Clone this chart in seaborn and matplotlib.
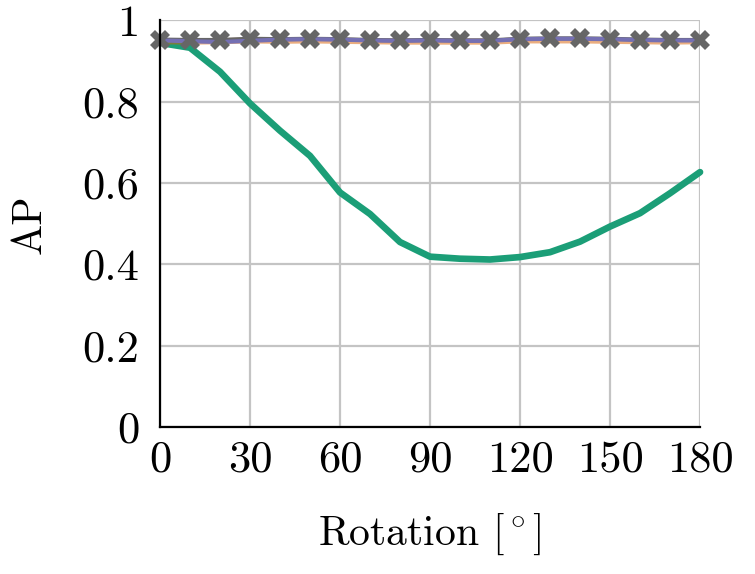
import numpy as np
import pandas as pd
import seaborn as sns
import matplotlib.pyplot as plt

# Angulos de rotacao e AP de cada metodo
rotation = [0, 10, 20, 30, 40, 50, 60, 70, 80, 90, 100, 110, 120, 130, 140, 150, 160, 170, 180]
ap_green = [0.945, 0.933, 0.874, 0.796, 0.729, 0.667, 0.577, 0.524, 0.455, 0.419,
            0.414, 0.412, 0.418, 0.430, 0.456, 0.493, 0.526, 0.575, 0.627]
ap_orange = [0.949, 0.948, 0.949, 0.951, 0.950, 0.951, 0.950, 0.949, 0.948, 0.948,
             0.948, 0.948, 0.951, 0.951, 0.951, 0.950, 0.949, 0.948, 0.949]
ap_purple = [0.951, 0.949, 0.947, 0.950, 0.953, 0.954, 0.953, 0.951, 0.950, 0.951,
             0.950, 0.950, 0.954, 0.955, 0.955, 0.954, 0.952, 0.951, 0.951]
ap_gray = [0.953, 0.952, 0.952, 0.955, 0.954, 0.955, 0.954, 0.952, 0.951, 0.952,
           0.951, 0.951, 0.955, 0.956, 0.956, 0.955, 0.953, 0.952, 0.952]
xticks = [0, 30, 60, 90, 120, 150, 180]
yticks = [0, 0.2, 0.4, 0.6, 0.8, 1]
ytick_labels = ['0', '0.2', '0.4', '0.6', '0.8', '1']

sns.set_style("white")
plt.rcParams['font.family'] = ['cmr10', 'DejaVu Serif']
plt.rcParams['mathtext.fontset'] = 'cm'
plt.rcParams['text.color'] = 'black'
plt.rcParams['axes.labelcolor'] = 'black'
plt.rcParams['xtick.labelcolor'] = 'black'
plt.rcParams['ytick.labelcolor'] = 'black'

pal = sns.color_palette('Dark2')

fig = plt.figure(figsize=(7.55, 5.74), dpi=100)
ax = fig.add_axes([0.2119, 0.2561, 0.7153, 0.7082])

ax.grid(True, color='#c4c4c4', linewidth=1.6, zorder=0)
ax.set_axisbelow(True)

sns.lineplot(x=rotation, y=ap_green, ax=ax, color=pal[0], linewidth=4.8, zorder=2)
sns.lineplot(x=rotation, y=ap_orange, ax=ax, color=pal[1], linewidth=4.4, alpha=0.5, zorder=3)
sns.lineplot(x=rotation, y=ap_gray, ax=ax, color=pal[7], linewidth=3.0, zorder=3.5)
sns.lineplot(x=rotation, y=ap_purple, ax=ax, color=pal[2], linewidth=3.0, zorder=4)
# marcadores X do metodo cinza por cima de tudo
sns.lineplot(x=rotation, y=ap_gray, ax=ax, color=pal[7], linestyle='', marker='X',
             markersize=14, markeredgewidth=0, zorder=5)
for line in ax.lines:
    line.set_clip_on(False)

ax.set_xlim(0, 180)
ax.set_ylim(0, 1)
ax.set_xticks(xticks)
ax.set_xticklabels([str(t) for t in xticks])
ax.set_yticks(yticks)
ax.set_yticklabels(ytick_labels)

for s in ['top', 'right']:
    ax.spines[s].set_visible(False)
for s in ['left', 'bottom']:
    ax.spines[s].set_color('black')
    ax.spines[s].set_linewidth(1.6)
    ax.spines[s].set_zorder(6)

ax.tick_params(axis='both', direction='in', length=5, width=1.2, color='#777777',
               labelsize=32)
ax.tick_params(axis='x', pad=10)
ax.tick_params(axis='y', pad=15)
ax.set_xlabel('Rotation [$^\\circ$]', fontsize=30, labelpad=22)
ax.set_ylabel('AP', fontsize=30, labelpad=24)

fig.savefig('out.png', dpi=100)
